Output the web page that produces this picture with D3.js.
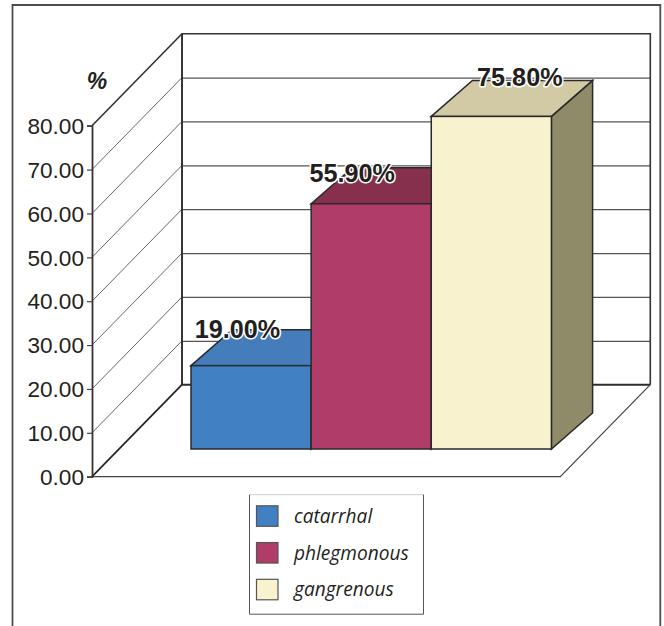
<!DOCTYPE html>
<html>
<head>
<meta charset="utf-8">
<script src="https://cdn.jsdelivr.net/npm/d3@7"></script>
<style>
html, body { margin: 0; padding: 0; background: #fff; }
svg { display: block; }
</style>
</head>
<body>
<div id="chart"></div>
<script>
// Chart data
const categories = ["catarrhal", "phlegmonous", "gangrenous"];
const values = [19.0, 55.9, 75.8];
const valueLabels = ["19.00%", "55.90%", "75.80%"];
const tickValues = [0, 10, 20, 30, 40, 50, 60, 70, 80];

// Face colours per category
const frontColors = ["#4180c3", "#b03c69", "#f8f2cf"];
const topColors = ["#457dbb", "#87304e", "#d2caa4"];
const sideColors = ["#35608f", "#7c2b49", "#8f8a68"];

const ink = "#231f20";
const width = 664, height = 626;

const svg = d3.select("#chart").append("svg")
  .attr("width", width).attr("height", height);

// Value axis on the front-left edge; everything else is offset from it
const y = d3.scaleLinear().domain([0, 80]).range([476.7, 125.7]);
const x = d3.scaleBand().domain(categories).range([191, 551.4]).paddingInner(0).paddingOuter(0);

const wall = { dx: 90, dy: -92, right: 650.3, floorRight: 560.3 };
const bar = { dx: 41.2, dy: -36, lift: -27.7 };
const barY = v => y(v) + bar.lift;

// Outer frame, open at the bottom
svg.append("path")
  .attr("d", `M12.5,${height} V5 H660.3 V${height}`)
  .attr("fill", "none").attr("stroke", "#4d4d4d").attr("stroke-width", 1.8);

// Gridlines on the back wall and diagonals on the side wall
const grid = svg.append("g").attr("fill", "none");
grid.selectAll("line.back").data(tickValues.slice(1, -1)).join("line")
  .attr("class", "back")
  .attr("x1", 92 + wall.dx).attr("x2", wall.right)
  .attr("y1", d => y(d) + wall.dy + 0.5).attr("y2", d => y(d) + wall.dy + 0.5)
  .attr("stroke", "#555").attr("stroke-width", 1.2);
grid.selectAll("line.side").data(tickValues.slice(1, -1)).join("line")
  .attr("class", "side")
  .attr("x1", 92).attr("x2", 92 + wall.dx)
  .attr("y1", d => y(d)).attr("y2", d => y(d) + wall.dy)
  .attr("stroke", "#555").attr("stroke-width", 0.9);

// Walls and floor outline
const x0 = 92, xb = x0 + wall.dx, yTop = y(80), yBase = y(0);
svg.append("path")
  .attr("d", `M${x0},${yTop} L${xb},${yTop + wall.dy} H${wall.right} V${yBase + wall.dy}`)
  .attr("fill", "none").attr("stroke", "#333").attr("stroke-width", 1.6);
svg.append("path")
  .attr("d", `M${xb},${yTop + wall.dy} V${yBase + wall.dy} H${wall.right}`)
  .attr("fill", "none").attr("stroke", "#2e2e2e").attr("stroke-width", 1.9);
svg.append("path")
  .attr("d", `M${x0},${yBase} L${xb},${yBase + wall.dy}`)
  .attr("fill", "none").attr("stroke", "#222").attr("stroke-width", 1.7);
svg.append("path")
  .attr("d", `M${x0},${yBase} H${wall.floorRight} L${wall.right},${yBase + wall.dy}`)
  .attr("fill", "none").attr("stroke", "#444").attr("stroke-width", 1.2);

// Axis with two-decimal tick labels
const axis = svg.append("g").attr("transform", `translate(${x0},0)`)
  .call(d3.axisLeft(y).tickValues(tickValues).tickSize(5).tickPadding(3)
    .tickFormat(d3.format(".2f")));
axis.select(".domain").attr("stroke", "#333").attr("stroke-width", 1.8);
axis.selectAll(".tick line").attr("stroke", "#444").attr("stroke-width", 1.2);
axis.selectAll(".tick text")
  .attr("font-family", "Liberation Sans, Arial, sans-serif")
  .attr("font-size", 22.6).attr("fill", ink).attr("dy", "0.34em");

svg.append("text").text("%")
  .attr("x", 97).attr("y", 88.5)
  .attr("text-anchor", "middle")
  .attr("font-family", "Liberation Sans, Arial, sans-serif")
  .attr("font-weight", "bold").attr("font-style", "italic").attr("font-size", 23)
  .attr("fill", ink);

// Three-faced bars, back to front in category order
const bars = svg.append("g").selectAll("g").data(categories).join("g");
const stroke = { stroke: "#2a2a2a", width: 1.5 };
bars.append("path")
  .attr("d", (c, i) => {
    const r = x(c) + x.bandwidth(), t = barY(values[i]), b = barY(0);
    return `M${r},${t} L${r + bar.dx},${t + bar.dy} V${b + bar.dy} L${r},${b} Z`;
  })
  .attr("fill", (c, i) => sideColors[i]).attr("stroke", stroke.stroke).attr("stroke-width", stroke.width);
bars.append("path")
  .attr("d", (c, i) => {
    const l = x(c), r = l + x.bandwidth(), t = barY(values[i]);
    return `M${l},${t} L${l + bar.dx},${t + bar.dy} H${r + bar.dx} L${r},${t} Z`;
  })
  .attr("fill", (c, i) => topColors[i]).attr("stroke", stroke.stroke).attr("stroke-width", stroke.width);
bars.append("rect")
  .attr("x", c => x(c)).attr("width", x.bandwidth())
  .attr("y", (c, i) => barY(values[i]))
  .attr("height", (c, i) => barY(0) - barY(values[i]))
  .attr("fill", (c, i) => frontColors[i]).attr("stroke", stroke.stroke).attr("stroke-width", stroke.width);

// Value labels with a white halo, each nudged clear of its bar's top face
const labelNudge = [[-13.7, -27.5], [-19, -22], [28.5, -30.5]];
svg.append("g").selectAll("text").data(categories).join("text")
  .attr("x", (c, i) => x(c) + x.bandwidth() / 2 + labelNudge[i][0])
  .attr("y", (c, i) => barY(values[i]) + labelNudge[i][1])
  .attr("text-anchor", "middle")
  .attr("font-family", "Liberation Sans, Arial, sans-serif")
  .attr("font-weight", "bold").attr("font-size", 25.2)
  .attr("fill", ink).attr("stroke", "#fff").attr("stroke-width", 3)
  .attr("stroke-linejoin", "round").attr("paint-order", "stroke")
  .text((c, i) => valueLabels[i]);

// Legend box
const legend = svg.append("g");
legend.append("rect")
  .attr("x", 249.5).attr("y", 494.7).attr("width", 174).attr("height", 119.5)
  .attr("fill", "#fff").attr("stroke", "none");
legend.append("path").attr("d", "M249.5,494.7 H423.5").attr("stroke", "#ccc").attr("fill", "none");
legend.append("path").attr("d", "M423.5,494.7 V614.2 H249.5 V494.7").attr("stroke", "#555").attr("fill", "none");

const rowY = d3.scalePoint().domain(categories).range([516, 589.5]);
const rows = legend.selectAll("g").data(categories).join("g")
  .attr("transform", c => `translate(0,${rowY(c)})`);
rows.append("rect")
  .attr("x", 256.5).attr("y", -10.2).attr("width", 21.5).attr("height", 20.5)
  .attr("fill", (c, i) => frontColors[i]).attr("stroke", "#555").attr("stroke-width", 1.2);
rows.append("text").text(c => c)
  .attr("x", 294).attr("y", 6.8)
  .attr("font-family", "Open Sans, Noto Sans, sans-serif")
  .attr("font-style", "italic").attr("font-size", 19.1)
  .attr("fill", ink);
</script>
</body>
</html>
